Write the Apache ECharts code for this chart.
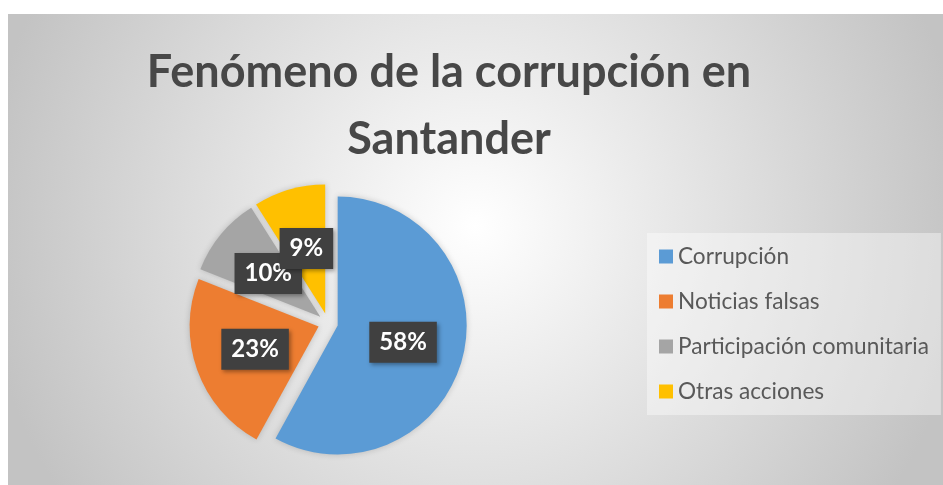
<!DOCTYPE html>
<html>
<head>
<meta charset="utf-8">
<script src="https://cdn.jsdelivr.net/npm/echarts@6/dist/echarts.min.js"></script>
<style>
  html, body { margin: 0; padding: 0; background: #fff; }
  #chart { position: absolute; left: 8px; top: 14px; width: 935px; height: 471px; }
</style>
</head>
<body>
<div id="chart"></div>
<script>
const categories = ['Corrupción', 'Noticias falsas', 'Participación comunitaria', 'Otras acciones']
const values = [58, 23, 10, 9]
const colors = ['#5B9BD5', '#ED7D31', '#A5A5A5', '#FFC000']

const chart = echarts.init(document.getElementById('chart'))

const option = {
  backgroundColor: new echarts.graphic.RadialGradient(0.5, 0.45, 1.05, [
    { offset: 0, color: '#ffffff' },
    { offset: 1, color: '#c3c3c3' }
  ]),
  title: {
    text: 'Fenómeno de la corrupción en\nSantander',
    left: 436,
    top: 20,
    textAlign: 'center',
    textStyle: {
      fontFamily: 'Lato',
      fontWeight: 'bold',
      fontSize: 45,
      lineHeight: 67,
      color: '#474747'
    }
  },
  legend: {
    orient: 'vertical',
    left: 639,
    top: 219,
    padding: [12, 12, 12, 12],
    itemGap: 22,
    itemWidth: 14,
    itemHeight: 14,
    icon: 'rect',
    backgroundColor: 'rgba(255,255,255,0.4)',
    selectedMode: false,
    data: categories,
    textStyle: {
      fontFamily: 'Lato',
      fontSize: 22.6,
      lineHeight: 22,
      color: '#595959'
    }
  },
  series: [
    {
      type: 'pie',
      center: [320, 309],
      radius: 129,
      startAngle: 90,
      selectedMode: 'multiple',
      selectedOffset: 10,
      percentPrecision: 0,
      avoidLabelOverlap: false,
      silent: true,
      color: colors,
      itemStyle: {
        shadowBlur: 6,
        shadowColor: 'rgba(0,0,0,0.18)'
      },
      label: {
        position: 'inside',
        formatter: '{d}%',
        fontFamily: 'Lato',
        fontWeight: 'bold',
        fontSize: 24,
        lineHeight: 25,
        color: '#ffffff',
        backgroundColor: '#404040',
        padding: [8, 10],
        shadowBlur: 4,
        shadowOffsetX: 2,
        shadowOffsetY: 2,
        shadowColor: 'rgba(0,0,0,0.35)'
      },
      labelLayout: { hideOverlap: false },
      labelLine: { show: false },
      data: categories.map((name, i) => ({ name: name, value: values[i], selected: true }))
    }
  ]
}

chart.setOption(option)
</script>
</body>
</html>
